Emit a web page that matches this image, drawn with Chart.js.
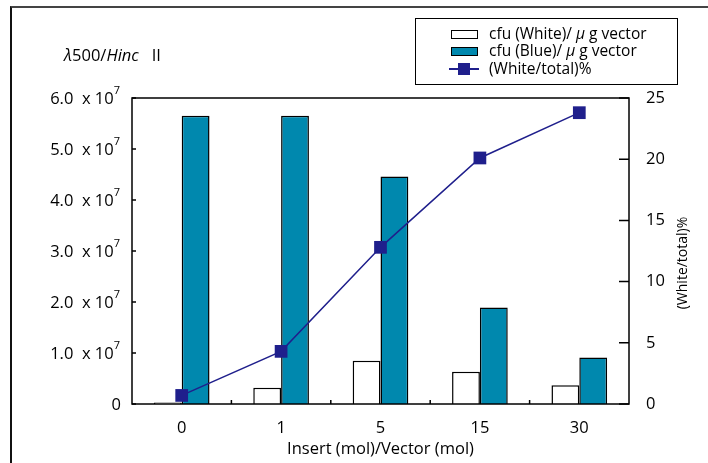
<!DOCTYPE html>
<html>
<head>
<meta charset="utf-8">
<script src="https://cdn.jsdelivr.net/npm/chart.js@4.4.0/dist/chart.umd.min.js"></script>
<style>
  html, body { margin: 0; padding: 0; background: #fff; }
  #wrap { position: relative; width: 708px; height: 463px; overflow: hidden; font-family: 'Open Sans', sans-serif; color: #000; }
  #frame { position: absolute; left: 10px; top: 6px; width: 720px; height: 480px; border-top: 2px solid #444; border-left: 2px solid #111; }
  #titol { position: absolute; left: 64px; top: 43px; font-size: 16.5px; white-space: pre; }
  #llegenda { position: absolute; left: 415px; top: 18px; width: 263px; height: 67px; border: 1px solid #000; box-sizing: border-box; font-size: 15.5px; }
  .fila { position: absolute; left: 73px; white-space: pre; line-height: 17px; }
  .simb { position: absolute; box-sizing: border-box; }
  canvas { position: absolute; left: 0; top: 0; }
</style>
</head>
<body>
<div id="wrap">
  <div id="frame"></div>
  <canvas id="grafic" width="708" height="463"></canvas>
  <div id="titol"><i>λ</i>500/<i>Hinc</i>   II</div>
  <div id="llegenda">
    <div class="simb" style="left:35px;top:11px;width:27px;height:9px;border:1px solid #000;background:#fff;"></div>
    <div class="fila" style="top:6px;">cfu (White)/ <i>μ</i> g vector</div>
    <div class="simb" style="left:35px;top:28px;width:27px;height:9px;border:1px solid #000;background:#0088ae;"></div>
    <div class="fila" style="top:23px;">cfu (Blue)/ <i>μ</i> g vector</div>
    <div class="simb" style="left:33px;top:49px;width:30px;height:2px;background:#1f1f8c;"></div>
    <div class="simb" style="left:42px;top:44px;width:12px;height:12px;background:#1f1f8c;"></div>
    <div class="fila" style="top:41px;">(White/total)%</div>
  </div>
</div>
<script>
const categories = ['0', '1', '5', '15', '30'];
const cfuWhite = [0.03e7, 0.32e7, 0.85e7, 0.63e7, 0.37e7];
const cfuBlue = [5.65e7, 5.65e7, 4.46e7, 1.89e7, 0.91e7];
const whitePct = [0.7, 4.3, 12.8, 20.1, 23.8];
const leftTicks = [0, 1e7, 2e7, 3e7, 4e7, 5e7, 6e7];
const leftTickLabels = ['0', '1.0', '2.0', '3.0', '4.0', '5.0', '6.0'];
const rightTicks = [0, 5, 10, 15, 20, 25];

const FONT = "'Open Sans', sans-serif";
const MIDA = 16.5;
const BLUE = '#0088ae';
const NAVY = '#1f1f8c';

const eixosPlugin = {
  id: 'eixos',
  afterDatasetsDraw(chart) {
    const { ctx, chartArea: a, scales } = chart;
    const y = scales.y, y1 = scales.y1, x = scales.x;
    ctx.save();
    ctx.strokeStyle = '#000';
    ctx.lineWidth = 1.5;
    ctx.strokeRect(a.left, a.top, a.right - a.left, a.bottom - a.top);

    ctx.beginPath();
    leftTicks.forEach((v) => {
      const py = y.getPixelForValue(v);
      ctx.moveTo(a.left, py);
      ctx.lineTo(a.left + 4, py);
    });
    rightTicks.forEach((v) => {
      const py = y1.getPixelForValue(v);
      ctx.moveTo(a.right, py);
      ctx.lineTo(a.right - 10, py);
    });
    for (let i = 0; i < categories.length - 1; i++) {
      const px = (x.getPixelForValue(i) + x.getPixelForValue(i + 1)) / 2;
      ctx.moveTo(px, a.bottom);
      ctx.lineTo(px, a.bottom - 4);
    }
    ctx.stroke();

    // etiquetes esquerra amb exponent
    ctx.fillStyle = '#000';
    ctx.textBaseline = 'middle';
    leftTicks.forEach((v, i) => {
      const py = y.getPixelForValue(v);
      const dreta = 120;
      if (v === 0) {
        ctx.font = `${MIDA}px ${FONT}`;
        ctx.textAlign = 'right';
        ctx.fillText('0', dreta + 1, py + 1);
        return;
      }
      ctx.font = `11px ${FONT}`;
      const supW = ctx.measureText('7').width;
      ctx.textAlign = 'left';
      ctx.fillText('7', dreta - supW, py - 7);
      ctx.font = `${MIDA}px ${FONT}`;
      ctx.textAlign = 'right';
      ctx.fillText(leftTickLabels[i] + '  x 10', dreta - supW, py + 1);
    });

    // titol eix dret
    ctx.font = `14px ${FONT}`;
    ctx.translate(683, (a.top + a.bottom) / 2 + 12);
    ctx.rotate(-Math.PI / 2);
    ctx.textAlign = 'center';
    ctx.fillText('(White/total)%', 0, 0);
    ctx.restore();
  }
};

new Chart(document.getElementById('grafic').getContext('2d'), {
  data: {
    labels: categories,
    datasets: [
      {
        type: 'line',
        label: '(White/total)%',
        data: whitePct,
        yAxisID: 'y1',
        borderColor: NAVY,
        borderWidth: 1.5,
        backgroundColor: NAVY,
        pointStyle: 'rect',
        pointRadius: 9,
        pointBorderWidth: 0,
        order: 0
      },
      {
        type: 'bar',
        label: 'cfu (White)/ μ g vector',
        data: cfuWhite,
        yAxisID: 'y',
        backgroundColor: '#fff',
        borderColor: '#000',
        borderWidth: 1.5,
        categoryPercentage: 0.56,
        barPercentage: 1.0,
        order: 1
      },
      {
        type: 'bar',
        label: 'cfu (Blue)/ μ g vector',
        data: cfuBlue,
        yAxisID: 'y',
        backgroundColor: BLUE,
        borderColor: '#000',
        borderWidth: 1.5,
        categoryPercentage: 0.56,
        barPercentage: 1.0,
        order: 1
      }
    ]
  },
  options: {
    responsive: false,
    animation: false,
    layout: { padding: { top: 98, left: 0, right: 0, bottom: 0 } },
    plugins: { legend: { display: false }, tooltip: { enabled: false } },
    scales: {
      x: {
        grid: { display: false },
        border: { display: false },
        ticks: { color: '#000', font: { family: FONT, size: MIDA }, padding: 6 },
        title: { display: true, text: 'Insert (mol)/Vector (mol)', color: '#000', font: { family: FONT, size: MIDA }, padding: { top: 0, bottom: 4 } },
        afterFit: (s) => { s.height = 59; }
      },
      y: {
        position: 'left',
        min: 0,
        max: 6e7,
        grid: { display: false },
        border: { display: false },
        ticks: { display: false, stepSize: 1e7 },
        afterFit: (s) => { s.width = 132; }
      },
      y1: {
        position: 'right',
        min: 0,
        max: 25,
        grid: { display: false },
        border: { display: false },
        ticks: { color: '#000', font: { family: FONT, size: MIDA }, stepSize: 5, padding: 9 },
        afterFit: (s) => { s.width = 79; }
      }
    }
  },
  plugins: [eixosPlugin]
});
</script>
</body>
</html>
